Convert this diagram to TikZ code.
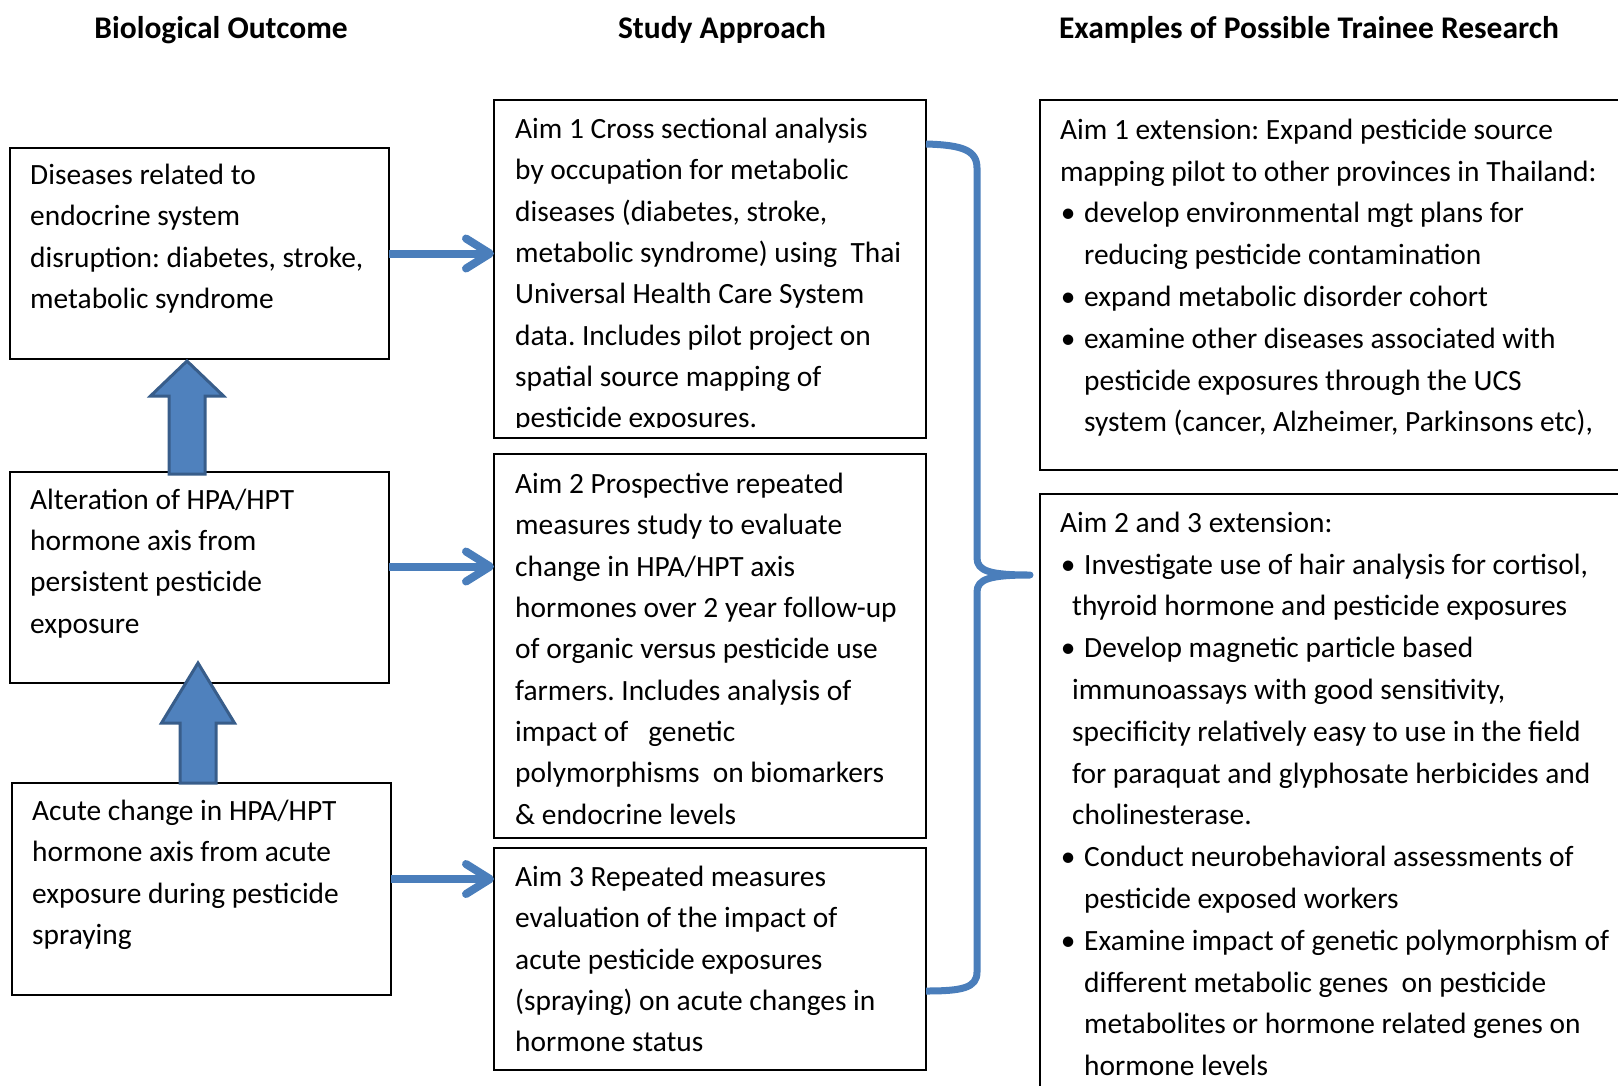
\documentclass[tikz,border=0pt]{standalone}
\usepackage{fontspec}
\setmainfont{Carlito}
\usetikzlibrary{arrows.meta, positioning, calc}
\frenchspacing

\definecolor{linkblue}{HTML}{4A7EBB}
\definecolor{blockblue}{HTML}{4F81BD}
\definecolor{blockedge}{HTML}{385D8A}

% bullet and hanging indents for the extension boxes
\newcommand{\itm}{\makebox[16pt][c]{\textbullet}\hspace*{8pt}}
\newcommand{\cont}{\hspace*{24pt}}
\newcommand{\contb}{\hspace*{12pt}}

\begin{document}
\begin{tikzpicture}[
    x=1pt, y=-1pt,
    font=\fontsize{29.4}{41.3}\selectfont,
    box/.style      = {rectangle, draw=black, line width=1.8pt, anchor=north west,
                       inner sep=0pt, outer sep=0pt},
    outcome/.style  = {box, minimum width=379pt, minimum height=211pt},
    aim/.style      = {box, minimum width=432pt},
    ext/.style      = {box, minimum width=600pt},
    txt/.style      = {anchor=north west, align=left, inner sep=0pt, execute at begin node=\strut},
    exttxt/.style   = {txt, font=\fontsize{29.4}{41.8}\selectfont},
    head/.style     = {font=\fontsize{31.5}{36}\selectfont\bfseries, anchor=base, inner sep=0pt},
    link/.style     = {-{Straight Barb[length=24pt, width=30pt, round]}, line width=8pt, linkblue},
    blockarr/.style = {fill=blockblue, draw=blockedge, line width=3pt, line join=miter},
    brace/.style    = {linkblue, line width=7pt, line join=round},
]
\useasboundingbox (0,0) rectangle (1618,1085);

% ---- column headings ----
\node[head] (hbio) at (221,38) {Biological Outcome};
\node[head] (hstudy) at (722,38) {Study Approach};
\node[head] (hext) at (1309,38) {Examples of Possible Trainee Research};

% ---- biological outcome column ----
\node[outcome] (d1) at (10,148) {};
\node[outcome] (d2) [below=113pt of d1] {};
\node[outcome, minimum height=212pt] (d3) [below=100pt of d2, xshift=2pt] {};

\node[txt] (d1t) at ([shift={(20,16)}]d1.north west)
     {Diseases related to\\endocrine system\\disruption: diabetes, stroke,\\metabolic syndrome};
\node[txt] (d2t) at ([shift={(20,16.5)}]d2.north west)
     {Alteration of HPA/HPT\\hormone axis from\\persistent pesticide\\exposure};
\node[txt] (d3t) at ([shift={(20,17)}]d3.north west)
     {Acute change in HPA/HPT\\hormone axis from acute\\exposure during pesticide\\spraying};

% ---- study approach column ----
\node[aim, minimum height=338pt] (a1) at (494,100) {};
\node[aim, minimum height=384pt] (a2) [below=16pt of a1] {};
\node[aim, minimum height=222pt] (a3) [below=10pt of a2] {};

\begin{scope}
  \clip (a1.north west) rectangle ([yshift=11pt]a1.south east);
  \node[txt] (a1t) at ([shift={(21,18)}]a1.north west)
       {Aim 1 Cross sectional analysis\\by occupation for metabolic\\diseases (diabetes, stroke,\\
        metabolic syndrome) using\ \ Thai\\Universal Health Care System\\
        data. Includes pilot project on\\spatial source mapping of\\pesticide exposures.};
\end{scope}
\node[txt] (a2t) at ([shift={(21,19)}]a2.north west)
     {Aim 2 Prospective repeated\\measures study to evaluate\\change in HPA/HPT axis\\
      hormones over 2 year follow-up\\of organic versus pesticide use\\
      farmers. Includes analysis of\\impact of\ \ \ genetic\\
      polymorphisms\ \ on biomarkers\\\& endocrine levels};
\node[txt] (a3t) at ([shift={(21,18)}]a3.north west)
     {Aim 3 Repeated measures\\evaluation of the impact of\\acute pesticide exposures\\
      (spraying) on acute changes in\\hormone status};

% ---- trainee research column ----
\node[ext, minimum height=370pt] (r1) at (1040,100) {};
\node[ext, minimum height=620pt] (r2) [below=24pt of r1] {};

\node[exttxt] (r1t) at ([shift={(20,18.7)}]r1.north west)
     {Aim 1 extension: Expand pesticide source\\mapping pilot to other provinces in Thailand:\\
      \itm develop environmental mgt plans for\\\cont reducing pesticide contamination\\
      \itm expand metabolic disorder cohort\\
      \itm examine other diseases associated with\\\cont pesticide exposures through the UCS\\
      \cont system (cancer, Alzheimer, Parkinsons etc),};
\node[exttxt] (r2t) at ([shift={(20,17.7)}]r2.north west)
     {Aim 2 and 3 extension:\\
      \itm Investigate use of hair analysis for cortisol,\\\contb thyroid hormone and pesticide exposures\\
      \itm Develop magnetic particle based\\\contb immunoassays with good sensitivity,\\
      \contb specificity relatively easy to use in the field\\
      \contb for paraquat and glyphosate herbicides and\\\contb cholinesterase.\\
      \itm Conduct neurobehavioral assessments of\\\cont pesticide exposed workers\\
      \itm Examine impact of genetic polymorphism of\\\cont different metabolic genes\ \ on pesticide\\
      \cont metabolites or hormone related genes on\\\cont hormone levels};

% ---- links outcome -> aim ----
\draw[link] (d1.east) -- (d1.east -| a1.west);
\draw[link] ([yshift=11pt]d2.east) -- ([yshift=11pt]d2.east -| a2.west);
\draw[link] ([yshift=10pt]d3.east) -- ([yshift=10pt]d3.east -| a3.west);

% ---- block arrows up the outcome column ----
\draw[blockarr] let \p1 = ([xshift=-12.5pt, yshift=-2pt]d2.north),
                    \p2 = ([xshift=-12.5pt, yshift=-2pt]d1.south) in
  (\x1-18pt,\y1) -- (\x1-18pt,\y2-35pt) -- (\x1-36.5pt,\y2-35pt) -- (\x2,\y2)
  -- (\x1+36.5pt,\y2-35pt) -- (\x1+18pt,\y2-35pt) -- (\x1+18pt,\y1) -- cycle;
\draw[blockarr] let \p1 = ([xshift=-3.5pt]d3.north),
                    \p2 = ([xshift=-1.5pt, yshift=20pt]d2.south) in
  (\x1-18pt,\y1) -- (\x1-18pt,\y2-60pt) -- (\x1-36.5pt,\y2-60pt) -- (\x2,\y2)
  -- (\x1+36.5pt,\y2-60pt) -- (\x1+18pt,\y2-60pt) -- (\x1+18pt,\y1) -- cycle;

% ---- brace gathering the aims ----
\coordinate (btop) at ([yshift=-44pt]a1.north east);
\coordinate (bbot) at ([yshift=79pt]a3.south east);
\coordinate (btip) at (1030,575);
\draw[brace] (btop) .. controls (962,145) and (977,150) .. (977,168) -- (977,558)
  .. controls (977,571) and (990,575) .. (btip)
  .. controls (990,575) and (977,579) .. (977,592) -- (977,972)
  .. controls (977,988) and (962,991) .. (bbot);

\end{tikzpicture}
\end{document}
